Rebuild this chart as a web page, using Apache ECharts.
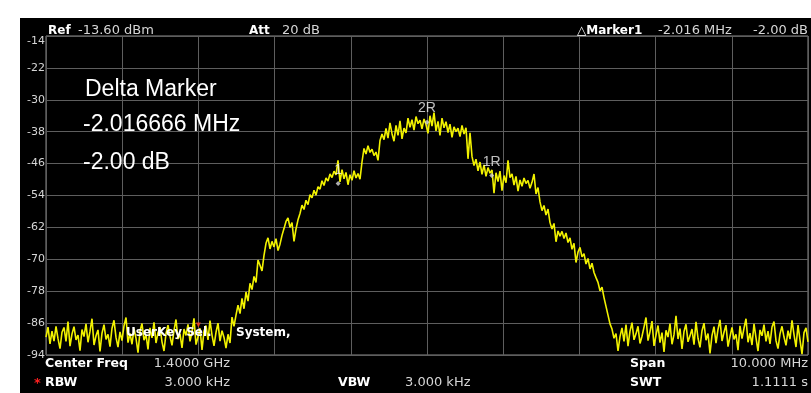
<!DOCTYPE html>
<html>
<head>
<meta charset="utf-8">
<title>Spectrum trace</title>
<script src="https://cdn.jsdelivr.net/npm/echarts@6/dist/echarts.min.js"></script>
<style>
  html, body { margin: 0; padding: 0; background: #fff; }
  #chart { width: 811px; height: 393px; }
</style>
</head>
<body>
<div id="chart"></div>
<script>
// Span: center 1.4 GHz, 10 MHz wide -> offsets in MHz
const spanStart = -5;
const spanEnd = 5;
const levelMin = -94;
const levelMax = -14;
const levelStep = 8;

// Measured trace (dBm), one value per sweep point across the span
const traceLevels = [
  -89.5, -87.0, -91.2, -88.0, -90.5, -86.8, -89.9, -92.4, -88.3, -87.1,
  -90.6, -85.6, -91.8, -88.7, -86.9, -90.2, -89.0, -92.9, -87.6, -89.4,
  -86.2, -90.8, -88.1, -84.9, -91.5, -89.2, -87.7, -93.1, -88.5, -86.4,
  -90.1, -88.8, -91.9, -87.3, -85.3, -89.6, -92.0, -88.2, -90.4, -86.7,
  -84.6, -90.9, -88.6, -91.3, -87.4, -89.8, -93.4, -88.0, -86.1, -90.3,
  -88.9, -92.6, -87.2, -89.7, -85.8, -91.0, -88.4, -87.0, -90.7, -93.0,
  -88.6, -86.5, -89.3, -91.6, -87.8, -85.1, -90.0, -88.7, -92.2, -87.5,
  -89.1, -86.3, -90.6, -88.2, -84.8, -91.4, -89.5, -87.3, -92.7, -88.0,
  -86.6, -90.2, -85.4, -89.0, -91.7, -88.3, -86.0, -90.5, -87.9, -89.6,
  -92.3, -88.8,
  -91.0, -84.5, -86.8, -84.0, -81.5, -83.6, -79.8, -82.4, -78.2, -80.5,
  -76.0, -77.6, -74.3, -75.8, -70.2, -71.5, -72.9, -69.0, -66.0, -64.6,
  -67.4, -65.5, -66.9, -64.8, -67.8, -66.2, -64.0, -62.3, -60.5, -59.6,
  -62.0, -60.8, -65.5, -62.4, -60.1, -58.5, -56.4, -57.5, -55.2, -56.3,
  -53.8, -54.6, -52.7, -53.9, -51.8, -52.4, -50.3, -51.5, -49.6, -50.4,
  -48.6, -49.5, -47.9, -48.8, -45.2, -50.6, -47.5, -49.8, -48.2, -51.3,
  -48.8, -50.2, -47.8, -49.6, -48.5, -49.9, -45.6, -42.2, -43.6, -41.5,
  -43.2, -42.4, -44.0, -43.1, -45.2, -40.2, -38.6, -40.0, -37.2, -39.6,
  -35.8, -38.5, -40.4, -36.4, -38.9, -35.3, -39.8, -37.1, -38.3, -34.6,
  -36.9, -35.0, -37.6, -34.2, -36.0, -35.1, -37.3, -34.8, -36.2, -38.4,
  -34.0, -36.6, -33.2, -37.8, -35.4, -38.9, -34.6, -37.0, -35.5, -38.2,
  -36.1, -39.4, -36.8, -38.0, -37.1, -39.2, -36.4, -38.6, -37.0, -44.8,
  -38.3, -44.2, -46.5, -44.9, -47.8, -45.6, -48.7, -46.3, -49.2, -47.0,
  -48.4, -47.6, -53.4, -48.3, -50.5, -47.9, -52.8, -49.0, -50.8, -45.2,
  -49.5, -48.6, -51.4, -49.2, -52.9, -50.1, -51.7, -49.6, -51.0, -50.2,
  -52.2, -50.7, -48.6, -53.6, -52.0, -55.6, -57.8, -56.5, -58.9, -57.4,
  -60.8, -62.4, -61.0, -65.6, -62.9, -64.2, -63.0, -64.8, -63.4, -65.8,
  -64.6, -67.5, -66.0, -70.8, -68.2, -67.0, -69.4, -68.6, -71.2, -69.8,
  -72.4, -71.0, -73.3, -74.6, -75.8, -77.9, -77.0, -79.6, -81.8, -84.0,
  -86.2, -87.5, -89.8, -88.6, -93.0, -89.4,
  -87.2, -90.6, -86.4, -91.8, -88.0, -85.9, -90.2, -88.7, -86.8, -91.1,
  -89.3, -87.0, -84.6, -90.4, -88.2, -85.5, -91.7, -89.0, -86.6, -90.9,
  -88.4, -93.2, -87.8, -89.5, -86.1, -91.3, -88.9, -84.2, -90.0, -87.4,
  -92.5, -88.1, -86.3, -90.7, -89.2, -87.5, -91.4, -85.7, -89.8, -92.1,
  -87.9, -86.0, -90.3, -88.6, -93.6, -89.1, -86.9, -91.0, -87.6, -85.2,
  -90.5, -88.3, -86.5, -91.9, -89.4, -87.1, -90.1, -88.8, -92.8, -86.7,
  -89.9, -87.3, -84.9, -90.8, -88.5, -91.5, -86.2, -89.7, -93.0, -87.7,
  -89.2, -86.4, -90.6, -88.0, -91.2, -87.0, -85.6, -90.4, -92.4, -88.7,
  -86.8, -89.5, -91.6, -87.9, -90.0, -85.3, -88.9, -92.0, -86.5, -90.2,
  -93.8, -88.4, -87.2, -90.7
];

// Markers (offset in MHz, level in dBm)
const markerNames = ['1', '2R', '1R'];
const markerFreqs = [-1.166666, 0, 0.85];
const markerLevels = [-51.0, -35.6, -49.0];

// Peak-search marker on the noise floor
const peakFreq = -3.0;
const peakLevel = -86.5;

// Sweep points evenly spaced over the span
const nPts = traceLevels.length;
const traceData = traceLevels.map((v, i) => [spanStart + i * (spanEnd - spanStart) / (nPts - 1), v]);
const markerData = markerNames.map((n, i) => [markerFreqs[i], markerLevels[i], n]);

const FONT = '"DejaVu Sans", "Liberation Sans", Arial, sans-serif';
const ARIAL = '"Liberation Sans", Arial, sans-serif';
const LIGHT = '#d6d6d6';

function txt(text, x, y, opts) {
  opts = opts || {};
  return {
    type: 'text', x: x, y: y, z: 100, silent: true,
    style: {
      text: text,
      fill: opts.fill || LIGHT,
      font: (opts.bold ? 'bold ' : '') + (opts.size || 12) + 'px ' + (opts.family || FONT),
      align: opts.align || 'left',
      verticalAlign: 'middle'
    }
  };
}

const chart = echarts.init(document.getElementById('chart'));
chart.setOption({
  backgroundColor: '#ffffff',
  animation: false,
  grid: {
    left: 46, right: 3, top: 36, bottom: 38,
    show: true, borderColor: '#8a8a8a', borderWidth: 1, backgroundColor: 'transparent'
  },
  xAxis: {
    type: 'value', min: spanStart, max: spanEnd, interval: 1,
    axisLine: { show: false }, axisTick: { show: false }, axisLabel: { show: false },
    splitLine: { show: true, lineStyle: { color: '#5e5e5e', width: 1 } }
  },
  yAxis: {
    type: 'value', min: levelMin, max: levelMax, interval: levelStep,
    axisLine: { show: false }, axisTick: { show: false },
    axisLabel: {
      color: LIGHT, fontSize: 11, fontFamily: FONT, margin: 1,
      formatter: v => (v === levelMax ? '{top|' + v + '}' : String(v)),
      rich: { top: { color: LIGHT, fontSize: 11, fontFamily: FONT, padding: [10, 0, 0, 0] } }
    },
    splitLine: { show: true, lineStyle: { color: '#5e5e5e', width: 1 } }
  },
  graphic: [
    { type: 'rect', z: -10, silent: true, shape: { x: 20, y: 18, width: 791, height: 375 }, style: { fill: '#000' } },
    // header
    txt('Ref', 48, 31, { bold: true, fill: '#fff', size: 12 }),
    txt('-13.60 dBm', 78, 31, { size: 13 }),
    txt('Att', 249, 31, { bold: true, fill: '#fff', size: 12 }),
    txt('20 dB', 282, 31, { size: 13 }),
    txt('\u25B3Marker1', 577, 31, { bold: true, fill: '#fff', size: 12 }),
    txt('-2.016 MHz', 658, 31, { size: 13 }),
    txt('-2.00 dB', 808, 31, { size: 13, align: 'right' }),
    // delta marker readout
    txt('Delta Marker', 85, 90, { fill: '#fff', size: 23, family: ARIAL }),
    txt('-2.016666 MHz', 83, 125, { fill: '#fff', size: 23, family: ARIAL }),
    txt('-2.00 dB', 83, 163, { fill: '#fff', size: 23, family: ARIAL }),
    // soft-key hint
    txt('UserKey Sel.', 126, 333, { bold: true, fill: '#fff', size: 12 }),
    txt('System,', 236, 333, { bold: true, fill: '#fff', size: 12 }),
    // footer
    txt('Center Freq', 45, 364, { bold: true, fill: '#fff', size: 12.5 }),
    txt('1.4000 GHz', 230, 364, { size: 13, align: 'right' }),
    txt('*', 34, 384, { bold: true, fill: '#ff2020', size: 13 }),
    txt('RBW', 45, 383, { bold: true, fill: '#fff', size: 12.5 }),
    txt('3.000 kHz', 230, 383, { size: 13, align: 'right' }),
    txt('VBW', 338, 383, { bold: true, fill: '#fff', size: 12.5 }),
    txt('3.000 kHz', 405, 383, { size: 13 }),
    txt('Span', 630, 364, { bold: true, fill: '#fff', size: 12.5 }),
    txt('10.000 MHz', 808, 364, { size: 13, align: 'right' }),
    txt('SWT', 630, 383, { bold: true, fill: '#fff', size: 12.5 }),
    txt('1.1111 s', 808, 383, { size: 13, align: 'right' })
  ],
  series: [
    {
      type: 'line',
      data: traceData,
      showSymbol: false,
      silent: true,
      z: 2,
      lineStyle: { color: '#f2f200', width: 1.6 }
    },
    {
      // trace markers with their names above
      type: 'scatter',
      data: markerData,
      silent: true,
      z: 10,
      symbol: 'diamond',
      symbolSize: 5,
      itemStyle: { color: '#d8d8d8' },
      label: {
        show: true,
        position: 'top',
        distance: 4,
        formatter: p => p.value[2],
        color: '#f0f0f0',
        fontSize: 14,
        fontFamily: ARIAL
      }
    },
    {
      type: 'scatter',
      data: [[peakFreq, peakLevel]],
      silent: true,
      z: 10,
      symbol: 'triangle',
      symbolSize: 5,
      symbolRotate: 180,
      itemStyle: { color: '#ff3a1a' }
    }
  ]
});
</script>
</body>
</html>
